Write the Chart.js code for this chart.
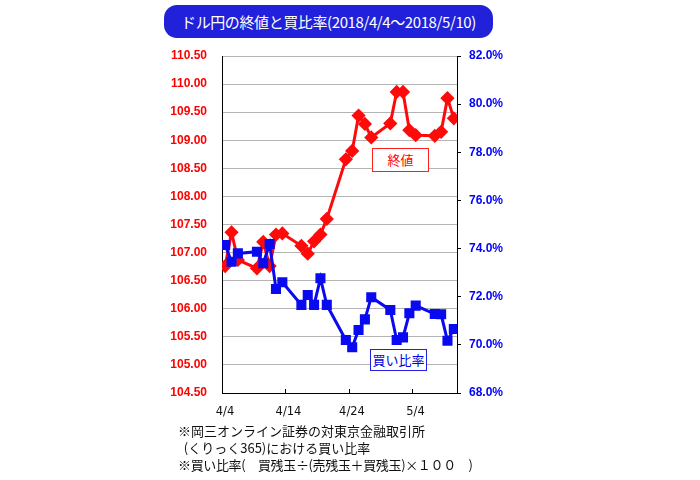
<!DOCTYPE html>
<html>
<head>
<meta charset="utf-8">
<script src="https://cdn.jsdelivr.net/npm/chart.js@4/dist/chart.umd.min.js"></script>
<style>
  body { margin: 0; background: #fff; }
  #wrap { position: relative; width: 700px; height: 480px; }
  #chart { position: absolute; left: 0; top: 0; }
  .jp { font-family: "Noto Sans CJK JP", sans-serif; }
  #title {
    position: absolute; left: 164px; top: 5px; width: 329px; height: 33px;
    background: #2121d9; border-radius: 13px; color: #fff;
    font-size: 15px; line-height: 33px; text-align: center; letter-spacing: -0.4px;
  }
  .tag {
    position: absolute; background: #fff; font-size: 13px; text-align: center;
  }
  #tagClose { left: 372px; top: 148px; width: 55px; height: 22px; line-height: 22px;
    border: 1px solid #ff2020; color: #ff0000; }
  #tagRatio { left: 370px; top: 349px; width: 55px; height: 20px; line-height: 20px;
    border: 1px solid #2020e0; color: #0000e0; }
  #note { position: absolute; left: 178px; top: 422px; font-size: 13px; line-height: 17px; color: #111; }
  #note .l3 { letter-spacing: -0.35px; }
</style>
</head>
<body>
<div id="wrap">
  <canvas id="chart" width="700" height="480"></canvas>
  <div id="title" class="jp">ドル円の終値と買比率(2018/4/4〜2018/5/10)</div>
  <div id="tagClose" class="tag jp">終値</div>
  <div id="tagRatio" class="tag jp">買い比率</div>
  <div id="note" class="jp">※岡三オンライン証券の対東京金融取引所<br>&nbsp;&nbsp;(くりっく365)における買い比率<br><span class="l3">※買い比率(　買残玉÷(売残玉＋買残玉)×１００　)</span></div>
</div>
<script>
'use strict';

// trading days (2018)
var dates = ['4/4', '4/5', '4/6', '4/9', '4/10', '4/11', '4/12', '4/13',
    '4/16', '4/17', '4/18', '4/19', '4/20', '4/23', '4/24', '4/25', '4/26', '4/27',
    '4/30', '5/1', '5/2', '5/3', '5/4', '5/7', '5/8', '5/9', '5/10'];

// USD/JPY close
var closeValues = [106.76, 107.36, 106.87, 106.72, 107.19, 106.76, 107.32, 107.34,
    107.12, 106.98, 107.20, 107.32, 107.60, 108.66, 108.81, 109.44, 109.29, 109.05,
    109.30, 109.86, 109.86, 109.18, 109.09, 109.08, 109.15, 109.75, 109.39];

// buy ratio (%)
var buyRatio = [74.15, 73.45, 73.80, 73.87, 73.39, 74.19, 72.32, 72.60,
    71.66, 72.07, 71.66, 72.77, 71.66, 70.20, 69.90, 70.62, 71.06, 71.98,
    71.45, 70.20, 70.31, 71.31, 71.63, 71.28, 71.27, 70.17, 70.66];

var xTickLabels = ['4/4', '4/14', '4/24', '5/4'];

var START = new Date(2018, 3, 4);

function dayOffset(label) {
    var p = label.split('/');
    var d = new Date(2018, parseInt(p[0], 10) - 1, parseInt(p[1], 10));
    return Math.round((d - START) / 86400000);
}

// each point sits in the middle of its day
function toPoints(values) {
    return values.map(function (v, i) {
        return { x: dayOffset(dates[i]) + 0.5, y: v };
    });
}

var tickFont = { family: 'Liberation Sans, Arial, sans-serif', size: 12, weight: 'bold' };

new Chart(document.getElementById('chart').getContext('2d'), {
    type: 'line',
    data: {
        datasets: [{
            label: '買い比率',
            data: toPoints(buyRatio),
            yAxisID: 'yRatio',
            borderColor: '#0a0af0',
            backgroundColor: '#0a0af0',
            borderWidth: 3,
            pointStyle: 'rect',
            pointRadius: 5,
            pointHoverRadius: 5,
            order: 0
        }, {
            label: '終値',
            data: toPoints(closeValues),
            yAxisID: 'yClose',
            borderColor: '#ff0a0a',
            backgroundColor: '#ff0a0a',
            borderWidth: 3,
            pointStyle: 'rectRot',
            pointRadius: 5,
            pointHoverRadius: 5,
            order: 1
        }]
    },
    options: {
        responsive: false,
        animation: false,
        layout: { padding: { top: 56, left: 0, right: 0, bottom: 0 } },
        plugins: {
            legend: { display: false },
            tooltip: { enabled: false }
        },
        scales: {
            x: {
                type: 'linear',
                min: 0,
                max: 37,
                afterBuildTicks: function (scale) {
                    scale.ticks = xTickLabels.map(function (l) {
                        return { value: dayOffset(l) };
                    });
                },
                afterFit: function (scale) { scale.height = 87; },
                ticks: {
                    autoSkip: false,
                    maxRotation: 0,
                    padding: 16,
                    labelOffset: 3,
                    color: '#111',
                    font: { family: 'DejaVu Sans, sans-serif', size: 11.5 },
                    callback: function (v) {
                        var i = xTickLabels.map(dayOffset).indexOf(v);
                        return i >= 0 ? xTickLabels[i] : '';
                    }
                },
                grid: { drawOnChartArea: false, tickLength: -4, color: '#000' },
                border: { color: '#000', width: 1 }
            },
            yClose: {
                position: 'left',
                min: 104.5,
                max: 110.5,
                afterFit: function (scale) { scale.width = 222; },
                ticks: {
                    stepSize: 0.5,
                    padding: 15,
                    color: '#ff0000',
                    font: tickFont,
                    callback: function (v) { return v.toFixed(2); }
                },
                grid: { color: '#b4b4b4', drawTicks: false },
                border: { color: '#000', width: 1 }
            },
            yRatio: {
                position: 'right',
                min: 68,
                max: 82,
                afterFit: function (scale) { scale.width = 700 - 457; },
                ticks: {
                    stepSize: 2,
                    padding: 8,
                    color: '#0000ff',
                    font: tickFont,
                    callback: function (v) { return v.toFixed(1) + '%'; }
                },
                grid: { drawOnChartArea: false, tickLength: 4, color: '#000' },
                border: { color: '#000', width: 1 }
            }
        }
    }
});
</script>
</body>
</html>
